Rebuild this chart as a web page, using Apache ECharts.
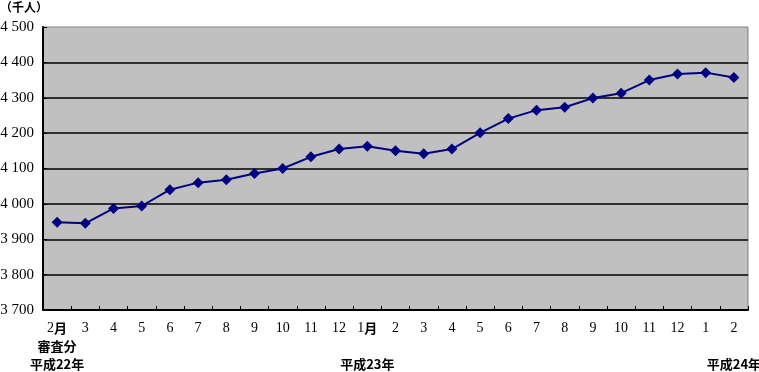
<!DOCTYPE html>
<html>
<head>
<meta charset="utf-8">
<script src="https://cdn.jsdelivr.net/npm/echarts@6/dist/echarts.min.js"></script>
<style>html,body{margin:0;padding:0;background:#fff}#c{width:759px;height:372px}</style>
</head>
<body>
<div id="c"></div>
<script>
const months = ['2月','3','4','5','6','7','8','9','10','11','12','1月','2','3','4','5','6','7','8','9','10','11','12','1','2'];
const subLabels = ['審査分','','','','','','','','','','','','','','','','','','','','','','','',''];
const yearLabels = ['平成22年','','','','','','','','','','','平成23年','','','','','','','','','','','','','平成24年'];
const values = [3948,3945,3987,3994,4040,4060,4068,4086,4100,4133,4155,4163,4150,4142,4155,4201,4241,4265,4273,4299,4313,4350,4367,4371,4357];
const yTicks = [3700,3800,3900,4000,4100,4200,4300,4400,4500];
const yTickLabels = ['3 700','3 800','3 900','4 000','4 100','4 200','4 300','4 400','4 500'];
const unitLabel = '（千人）';

const chart = echarts.init(document.getElementById('c'));
const cjk = '"Noto Sans CJK JP", sans-serif';
const serif = '"Liberation Serif", serif';
chart.setOption({
  animation: false,
  backgroundColor: '#ffffff',
  grid: {left: 43, right: 11, top: 27, bottom: 62, containLabel: false, outerBoundsMode: 'none', show: true, backgroundColor: '#C0C0C0', borderColor: '#808080', borderWidth: 1},
  graphic: [{type: 'text', left: 0, top: 1, style: {text: unitLabel, font: 'bold 12px ' + cjk, fill: '#000'}}],
  xAxis: {
    type: 'category', data: months, boundaryGap: true,
    axisLine: {lineStyle: {color: '#000', width: 2}},
    axisTick: {show: true, inside: true, length: 4, lineStyle: {color: '#000', width: 1}},
    axisLabel: {
      interval: 0, margin: 9, color: '#000',
      formatter: function (v, i) {
        let first;
        if (v.indexOf('月') >= 0) first = '{n|' + v.replace('月','') + '}{k|月}';
        else first = '{n|' + v + '}';
        const s = subLabels[i] ? '{k|' + subLabels[i] + '}' : '{n| }';
        const y = yearLabels[i] ? '{k|' + yearLabels[i] + '}' : '{n| }';
        return first + '\n' + s + '\n' + y;
      },
      rich: {
        n: {fontFamily: serif, fontSize: 14, lineHeight: 18, color: '#000'},
        k: {fontFamily: cjk, fontWeight: 'bold', fontSize: 13, lineHeight: 18, color: '#000'}
      }
    },
    splitLine: {show: false}
  },
  yAxis: {
    type: 'value', min: 3700, max: 4500, interval: 100,
    axisLine: {show: true, lineStyle: {color: '#000', width: 2}},
    axisTick: {show: true, inside: true, length: 4, lineStyle: {color: '#000'}},
    axisLabel: {
      margin: 9, color: '#000', fontFamily: serif, fontSize: 15,
      formatter: function (v) { const i = yTicks.indexOf(v); return i >= 0 ? yTickLabels[i] : ''; }
    },
    splitLine: {show: true, showMaxLine: false, showMinLine: false, lineStyle: {color: '#000', width: 1.5}}
  },
  series: [{
    type: 'line', data: values,
    lineStyle: {color: '#000080', width: 2},
    itemStyle: {color: '#000080'},
    symbol: 'diamond', symbolSize: 11, showSymbol: true
  }]
});
</script>
</body>
</html>
